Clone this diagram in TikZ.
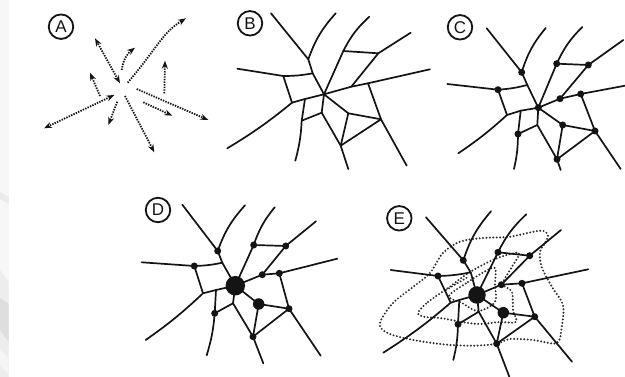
\documentclass[tikz,border=0pt]{standalone}
\usepackage{fontspec}
\setmainfont{Liberation Sans}
\usetikzlibrary{arrows.meta}
\definecolor{ink}{HTML}{141414}
\tikzset{
  roadline/.style={draw=ink,line width=1.7pt,line cap=round,line join=round},
  junction/.style={circle,fill=ink,inner sep=0pt,minimum size=#1},
  junction/.default=7pt,
  paneltag/.style={circle,draw=ink,line width=1.8pt,minimum size=24.5pt,inner sep=0pt,font=\fontsize{17}{17}\selectfont,text=ink},
  flow/.style={draw=ink,line width=1.8pt,dash pattern=on 1.4pt off 1.2pt,-{Stealth[length=8pt,width=6pt,color=ink]}},
  flowboth/.style={flow,{Stealth[length=8pt,width=6pt,color=ink]}-{Stealth[length=8pt,width=6pt,color=ink]}},
  zone/.style={draw=ink!90,line width=2.2pt,line cap=round,dash pattern=on 0pt off 3.4pt},
  streak/.style={fill=#1,draw=none}
}
\newcommand{\placepts}[2]{\foreach \n/\x/\y in {#2}{\coordinate (#1\n) at (\x,\y);}}
\newcommand{\roadnet}[1]{%
  \draw[roadline] (#1t1) -- (#1n1) -- (#1sd) -- (#1c);
  \draw[roadline] (#1n1) to[bend left=11] (#1t2);
  \draw[roadline] (#1t3) -- (#1L) to[bend right=5] (#1sd);
  \draw[roadline] (#1L) -- (#1L2);
  \draw[roadline] (#1t4) to[bend right=4] (#1L2) -- (#1P) -- (#1c);
  \draw[roadline] (#1P) -- (#1Q) to[bend left=6] (#1t5);
  \draw[roadline] (#1Q) -- (#1R) -- (#1c);
  \draw[roadline] (#1R) -- (#1S) -- (#1t6);
  \draw[roadline] (#1c) -- (#1T) -- (#1U) -- (#1t7);
  \draw[roadline] (#1T) -- (#1S) -- (#1U);
  \draw[roadline] (#1U) -- (#1V);
  \draw[roadline] (#1c) -- (#1W) -- (#1V) -- (#1t8);
  \draw[roadline] (#1W) -- (#1X) -- (#1t9);
  \draw[roadline] (#1Y) -- (#1X);
  \draw[roadline] (#1c) -- (#1Y) to[bend left=10] (#1t10);
}
\newcommand{\dotsat}[2]{\foreach \n in {#2}{\node[junction] (#1d\n) at (#1\n) {};}}
\begin{document}
\begin{tikzpicture}[x=1pt,y=-1pt]
\path[use as bounding box,fill=white] (0,0) rectangle (625,377);
% faint scanned-page strip on the left
\fill[streak=black!3] (0,0) rectangle (8.7,377);
\fill[streak=black!8] (0,192) -- (8.7,197) -- (8.7,204) -- (0,199) -- cycle;
\fill[streak=black!7] (0,270) -- (8.7,282) -- (8.7,377) -- (0,377) -- cycle;
\fill[streak=black!13] (0,298) -- (8.7,304) -- (8.7,342) -- (0,330) -- cycle;
\fill[streak=black!4] (0,350) -- (8.7,358) -- (8.7,374) -- (0,366) -- cycle;

% ---------- A ----------
\node[paneltag] (tagA) at (61,26.7) {A};
\foreach \i/\xa/\ya/\xb/\yb in {1/120/83.3/95/38.3,2/121.7/70/135/47.7,3/127.7/82.7/186/18.3,4/100/96/90/72.7,5/114.3/95/44/128.3,6/117.3/101.7/108.3/125,7/125/96/154.3/152.3,8/143.3/102.3/172.3/115.7,9/136.7/89/208.3/120,10/164.3/93.3/165/60.7}
  {\coordinate (As\i) at (\xa,\ya); \coordinate (Ae\i) at (\xb,\yb);}
\draw[flowboth] (As1) -- (Ae1);
\draw[flow] (As2) to[bend left=22] (Ae2);
\draw[flow] (As3) .. controls (158,47) and (162,33) .. (Ae3);
\draw[flow] (As4) -- (Ae4);
\draw[flowboth] (As5) -- (Ae5);
\draw[flow] (As6) -- (Ae6);
\draw[flow] (As7) -- (Ae7);
\draw[flow] (As8) -- (Ae8);
\draw[flow] (As9) -- (Ae9);
\draw[flow] (As10) -- (Ae10);

% ---------- B ----------
\node[paneltag] (tagB) at (250,23.3) {B};
\placepts{B}{t1/271/13.3,n1/308.3/59.3,t2/335.7/13.3,c/324/94.3,sd/312.7/73.3,L/283.3/76,t3/237.3/68.7,L2/292/102.7,t4/227.3/148.3,P/305/99,Q/301.7/120.7,t5/295.3/160.7,R/321.7/112.7,S/340.7/145.7,t6/348.3/169,T/348.3/113.3,U/381/119.3,t7/406.7/165.7,V/368/83.3,t8/430/69.3,W/351.3/86.7,X/378.3/53.3,t9/410.7/32.7,Y/343.3/51,t10/369.3/16.7}
\roadnet{B}

% ---------- C ----------
\node[paneltag] (tagC) at (460,27.3) {C};
\placepts{C}{t1/486.7/28.3,n1/521.7/72.3,t2/545.7/28,c/538.3/107.7,sd/527.3/85,L/498/89.7,t3/447.3/84,L2/507/115,t4/458.3/153.3,P/520.7/110.7,Q/518/134,t5/514/169,R/537.3/125,S/557/159.3,t6/560.7/170,T/562.7/125,U/595/131,t7/620.7/169,V/580.7/94,t8/625/85.7,W/560/98.7,X/588.3/65,t9/623.3/40,Y/556.7/63.7,t10/582.3/27}
\roadnet{C}
\dotsat{C}{n1,L,Q,c,T,U,S,V,W,X,Y}

% ---------- D ----------
\node[paneltag] (tagD) at (158,210) {D};
\placepts{D}{t1/182.3/204.7,n1/217.7/251,t2/245/205.3,c/235.3/285.7,sd/222.3/262.7,L/194.3/266,t3/141.7/262.3,L2/203/293.3,t4/145.7/340,P/216/290,Q/214.7/313.3,t5/206.7/355.3,R/233/303.3,S/253/336.7,t6/263.3/363.3,T/258.7/304,U/289/308.7,t7/320.7/355.7,V/279.3/273.3,t8/337.3/258.7,W/262.3/274.7,X/285.7/246,t9/316/221.3,Y/253.7/245,t10/274.7/207.3}
\roadnet{D}
\dotsat{D}{n1,L,Q,U,S,V,W,X,Y}
\node[junction=19.5pt] (Dhub) at (Dc) {};
\node[junction=11.5pt] (Dsub) at (DT) {};

% ---------- E ----------
\node[paneltag] (tagE) at (399.3,218.3) {E};
\placepts{E}{t1/426/217.3,n1/463.3/260.3,t2/491/211.3,c/477/295,sd/470.7/272.3,L/438/276,t3/390.7/270,L2/450.7/302.7,t4/383.3/352.7,P/459.3/300,Q/458/324.3,t5/453.3/360,R/478.7/311.7,S/496.7/343.7,t6/509.3/376.7,T/503.3/312.7,U/534.7/316.7,t7/572/361.7,V/522/283.3,t8/588.3/269.3,W/501.3/284.7,X/529.7/255.7,t9/561/230,Y/498/252.3,t10/526.3/214.3}
\draw[zone] plot[smooth cycle,tension=0.55] coordinates {(380,323) (393,303) (413,287) (430,273) (443,253) (460,241.7) (483,238) (510,236.7) (540,230.7) (548,235) (545,243) (540,252) (541.7,267) (552,287) (563,305) (561.7,327) (556.7,343) (533,340) (510,339) (496.7,343.7) (473,345.7) (443,344.3) (410,339.3) (387,332.7)};
\draw[zone] plot[smooth cycle,tension=0.55] coordinates {(418,313) (428,302) (448,288) (470,272) (495,259) (515,253) (519,255) (510,270) (503,284) (512,292) (513,310) (516,322) (500,322) (480,324) (462,322) (440,318) (425,317)};
\draw[zone] plot[smooth cycle,tension=0.55] coordinates {(449,296) (468,282) (484,272) (495,268) (495,285) (495,302) (478,311) (462,303)};
\draw[zone] plot[smooth,tension=0.5] coordinates {(446,290) (468,277)};
\roadnet{E}
\dotsat{E}{n1,L,Q,U,S,V,W,X,Y}
\node[junction=17.5pt] (Ehub) at (Ec) {};
\node[junction=11.5pt] (Esub) at (ET) {};
\end{tikzpicture}
\end{document}
